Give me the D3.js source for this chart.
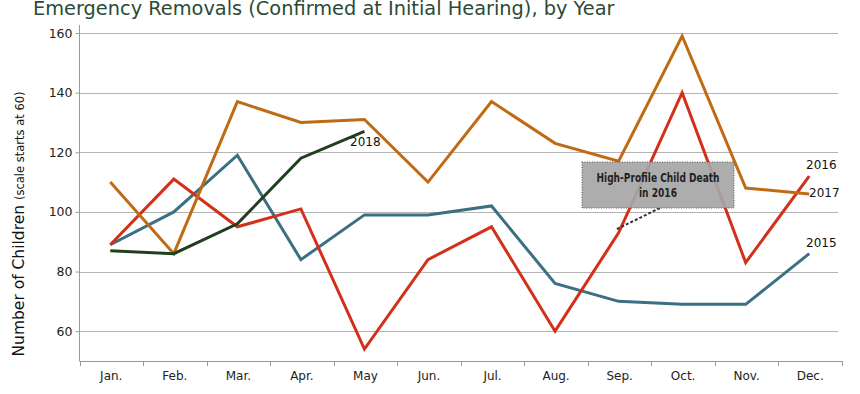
<!DOCTYPE html>
<head>
<meta charset="utf-8">
<script src="https://d3js.org/d3.v7.min.js"></script>
<style>
  body { margin: 0; background: #fff; }
  text { font-family: "DejaVu Sans", sans-serif; }
</style>
</head>
<body>
<script>
// data
const months = ["Jan.", "Feb.", "Mar.", "Apr.", "May", "Jun.", "Jul.", "Aug.", "Sep.", "Oct.", "Nov.", "Dec."];
const yTicks = [60, 80, 100, 120, 140, 160];
const v2015 = [89, 100, 119, 84, 99, 99, 102, 76, 70, 69, 69, 86];
const v2016 = [89, 111, 95, 101, 54, 84, 95, 60, 93, 140, 83, 112];
const v2017 = [110, 86, 137, 130, 131, 110, 137, 123, 117, 159, 108, 106];
const v2018 = [87, 86, 96, 118, 127];
const seriesNames = ["2015", "2016", "2017", "2018"];

const series = [
  { name: "2015", values: v2015, color: "#3b6f83" },
  { name: "2016", values: v2016, color: "#d3301b" },
  { name: "2017", values: v2017, color: "#c06a14" },
  { name: "2018", values: v2018, color: "#203f1d" }
];

const w = 860, h = 394;
const svg = d3.select("body").append("svg").attr("width", w).attr("height", h);

const x = d3.scaleBand().domain(months).range([79.5, 842]);
const y = d3.scaleLinear().domain([50, 160]).range([361, 33]);

// gridlines
svg.selectAll("line.grid").data(yTicks).enter().append("line")
  .attr("x1", 79.5).attr("x2", 838)
  .attr("y1", d => Math.round(y(d)) + 0.5).attr("y2", d => Math.round(y(d)) + 0.5)
  .attr("stroke", "#b4b4b4").attr("stroke-width", 1.2);

// y axis
const yAxis = svg.append("g").attr("transform", "translate(79.5,0)")
  .call(d3.axisLeft(y).tickValues(yTicks).tickSize(4).tickPadding(3));
yAxis.select(".domain").attr("stroke", "#9a9a9a").attr("d", "M0,25V361");
yAxis.selectAll(".tick line").attr("stroke", "#9a9a9a");
yAxis.selectAll("text").attr("font-size", 12.5).attr("fill", "#222").attr("font-family", "DejaVu Sans Condensed, DejaVu Sans");

// x axis
const xAxis = svg.append("g").attr("transform", "translate(0,361.5)")
  .call(d3.axisBottom(x).tickSize(0).tickPadding(10));
xAxis.select(".domain").attr("stroke", "#9a9a9a").attr("d", "M79.5,0H842");
xAxis.selectAll("text").attr("font-size", 12).attr("fill", "#222").attr("font-family", "DejaVu Sans Condensed, DejaVu Sans");
// band boundary ticks
svg.selectAll("line.xt").data(months.concat(["end"])).enter().append("line")
  .attr("x1", (d, i) => Math.round(79.5 + i * x.step()) + 0.5)
  .attr("x2", (d, i) => Math.round(79.5 + i * x.step()) + 0.5)
  .attr("y1", 361).attr("y2", 366)
  .attr("stroke", "#9a9a9a");

// lines
const line = d3.line()
  .x((d, i) => x(months[i]) + x.bandwidth() / 2 - 1)
  .y(d => y(d));

svg.selectAll("path.series").data(series).enter().append("path")
  .attr("d", d => line(d.values))
  .attr("fill", "none")
  .attr("stroke", d => d.color)
  .attr("stroke-width", 3)
  .attr("stroke-linejoin", "miter");

// series labels
const labelPos = { "2015": [806, 247], "2016": [806, 169], "2017": [809, 197], "2018": [350, 146] };
svg.selectAll("text.lab").data(seriesNames).enter().append("text")
  .attr("x", d => labelPos[d][0]).attr("y", d => labelPos[d][1])
  .attr("font-size", 12).attr("fill", "#111")
  .attr("font-family", "DejaVu Sans Condensed, DejaVu Sans")
  .text(d => d);

// annotation
svg.append("line")
  .attr("x1", 660).attr("y1", 208).attr("x2", 615).attr("y2", 230)
  .attr("stroke", "#333").attr("stroke-width", 2).attr("stroke-dasharray", "3,2");
svg.append("rect")
  .attr("x", 582).attr("y", 162).attr("width", 152).attr("height", 46)
  .attr("fill", "#a6a6a6").attr("fill-opacity", 0.92)
  .attr("stroke", "#555").attr("stroke-dasharray", "1,1.5");
svg.append("text").attr("x", 658).attr("y", 182).attr("text-anchor", "middle")
  .attr("font-size", 13).attr("font-weight", "bold").attr("fill", "#222")
  .attr("font-family", "DejaVu Sans Condensed, DejaVu Sans")
  .attr("textLength", 123).attr("lengthAdjust", "spacingAndGlyphs")
  .text("High-Profile Child Death");
svg.append("text").attr("x", 658).attr("y", 197).attr("text-anchor", "middle")
  .attr("font-size", 13).attr("font-weight", "bold").attr("fill", "#222")
  .attr("font-family", "DejaVu Sans Condensed, DejaVu Sans")
  .attr("textLength", 38).attr("lengthAdjust", "spacingAndGlyphs")
  .text("in 2016");

// title
const title = svg.append("text").attr("x", 33).attr("y", 15)
  .attr("font-size", 20).attr("fill", "#2b4a36")
  .attr("font-family", "DejaVu Sans")
  .text("Emergency Removals (Confirmed at Initial Hearing), by Year");
const tl = title.node().getComputedTextLength();
title.attr("font-size", 20 * 582 / tl);

// y label
const yl = svg.append("text")
  .attr("transform", "translate(24,224) rotate(-90)")
  .attr("text-anchor", "middle").attr("fill", "#111");
yl.append("tspan").attr("font-size", 15.5).text("Number of Children ");
yl.append("tspan").attr("font-size", 11.5).text("(scale starts at 60)");
</script>
</body>
</html>
